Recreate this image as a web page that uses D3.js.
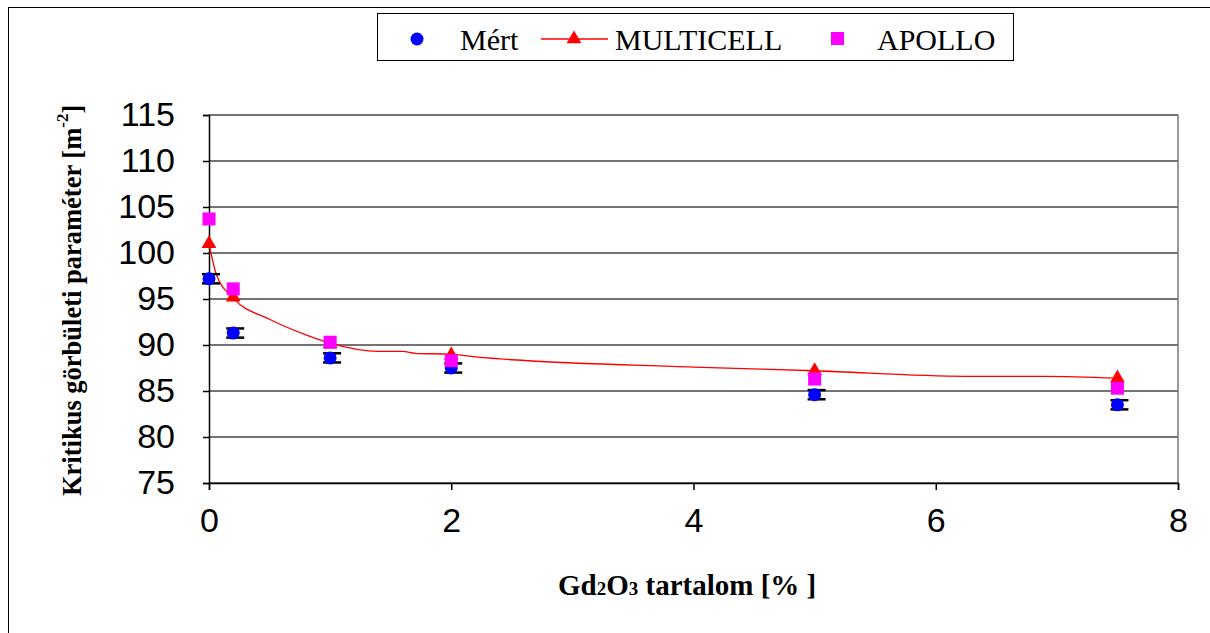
<!DOCTYPE html>
<html>
<head>
<meta charset="utf-8">
<script src="https://cdn.jsdelivr.net/npm/d3@7"></script>
<style>
  body { margin: 0; background: #fff; }
  svg { display: block; }
</style>
</head>
<body>
<svg id="chart" width="1210" height="633"></svg>
<script>
// Gd2O3 content [%]
const gdX = [0, 0.2, 1, 2, 5, 7.5];
// measured values + error
const mert = [97.2, 91.3, 88.6, 87.5, 84.6, 83.5];
const mertErr = [0.5, 0.5, 0.5, 0.5, 0.5, 0.5];
// MULTICELL markers
const multicell = [101.0, 95.2, 90.1, 88.9, 87.2, 86.4];
// MULTICELL curve
const curveX = [0, 0.06, 0.2, 0.5, 0.8, 1.0, 1.4, 1.6, 1.7, 2.0, 2.2, 4.0, 5.0, 6.25, 6.9, 7.5];
const curveY = [101.0, 97.7, 95.1, 92.8, 91.1, 90.2, 89.3, 89.3, 89.1, 89.0, 88.7, 87.6, 87.2, 86.6, 86.6, 86.4];
// APOLLO
const apollo = [103.7, 96.1, 90.3, 88.3, 86.3, 85.3];

const xTicks = [0, 2, 4, 6, 8];
const yTicks = [75, 80, 85, 90, 95, 100, 105, 110, 115];

const svg = d3.select("#chart");
const L = 209, R = 1178, T = 115, B = 483;

const x = d3.scaleLinear().domain([0, 8]).range([L, R]);
const y = d3.scaleLinear().domain([75, 115]).range([B, T]);

// outer frame
svg.append("rect")
    .attr("x", 8.5).attr("y", 7.5)
    .attr("width", 1210).attr("height", 640)
    .attr("fill", "none").attr("stroke", "#000").attr("stroke-width", 1);

// grid lines
svg.append("g").selectAll("line")
    .data(yTicks)
    .enter().append("line")
    .attr("x1", L).attr("x2", R)
    .attr("y1", d => y(d)).attr("y2", d => y(d))
    .attr("stroke", "#444").attr("stroke-width", 1.5);

// right border of plot area
svg.append("line")
    .attr("x1", R).attr("x2", R).attr("y1", T).attr("y2", B)
    .attr("stroke", "#777").attr("stroke-width", 1.5);

// axes
const yAxis = svg.append("g")
    .attr("transform", "translate(" + L + ",0)")
    .call(d3.axisLeft(y).tickValues(yTicks).tickSize(6).tickPadding(28));
const xAxis = svg.append("g")
    .attr("transform", "translate(0," + B + ")")
    .call(d3.axisBottom(x).tickValues(xTicks).tickSize(7).tickPadding(18));

[yAxis, xAxis].forEach(function(g) {
    g.select(".domain").attr("stroke", "#000").attr("stroke-width", 1.5);
    g.selectAll(".tick line").attr("stroke", "#000").attr("stroke-width", 1.5);
    g.selectAll(".tick text")
        .attr("fill", "#000")
        .style("font-family", "Liberation Sans, Arial, sans-serif")
        .style("font-size", "34px");
});

// MULTICELL line
const line = d3.line()
    .x(function(d) { return x(d[0]); })
    .y(function(d) { return y(d[1]); })
    .curve(d3.curveMonotoneX);
svg.append("path")
    .datum(d3.zip(curveX, curveY))
    .attr("d", line)
    .attr("fill", "none")
    .attr("stroke", "#ff0000")
    .attr("stroke-width", 1.3);

// Mért error bars (caps + vertical behind the dot)
const eb = svg.append("g");
gdX.forEach(function(v, i) {
    [mert[i] + mertErr[i], mert[i] - mertErr[i]].forEach(function(e) {
        eb.append("line")
            .attr("x1", x(v) - 7).attr("x2", x(v) + 11)
            .attr("y1", y(e)).attr("y2", y(e))
            .attr("stroke", "#000").attr("stroke-width", 2.5);
    });
    eb.append("line")
        .attr("x1", x(v)).attr("x2", x(v))
        .attr("y1", y(mert[i] + mertErr[i])).attr("y2", y(mert[i] - mertErr[i]))
        .attr("stroke", "#000").attr("stroke-width", 1);
});

// Mért circles
svg.append("g").selectAll("circle")
    .data(gdX)
    .enter().append("circle")
    .attr("cx", d => x(d))
    .attr("cy", (d, i) => y(mert[i]))
    .attr("r", 6.5)
    .attr("fill", "#0000ff");

// MULTICELL triangles
const tri = d3.symbol().type(d3.symbolTriangle).size(95);
svg.append("g").selectAll("path")
    .data(gdX)
    .enter().append("path")
    .attr("d", tri)
    .attr("transform", (d, i) => "translate(" + x(d) + "," + y(multicell[i]) + ")")
    .attr("fill", "#ff0000");

// APOLLO squares
svg.append("g").selectAll("rect")
    .data(gdX)
    .enter().append("rect")
    .attr("x", d => x(d) - 6.5)
    .attr("y", (d, i) => y(apollo[i]) - 6.5)
    .attr("width", 13).attr("height", 13)
    .attr("fill", "#ff00ff");

// legend
const lg = svg.append("g");
lg.append("rect")
    .attr("x", 377.5).attr("y", 13.5).attr("width", 636).attr("height", 47)
    .attr("fill", "#fff").attr("stroke", "#000").attr("stroke-width", 1);
lg.append("circle").attr("cx", 417).attr("cy", 39).attr("r", 6.5).attr("fill", "#0000ff");
lg.append("line").attr("x1", 541).attr("x2", 608).attr("y1", 39).attr("y2", 39)
    .attr("stroke", "#ff0000").attr("stroke-width", 1.3);
lg.append("path").attr("d", tri).attr("transform", "translate(574,39)").attr("fill", "#ff0000");
lg.append("rect").attr("x", 831).attr("y", 32).attr("width", 13).attr("height", 13).attr("fill", "#ff00ff");
const legendText = [["Mért", 460], ["MULTICELL", 615], ["APOLLO", 877]];
lg.selectAll("text")
    .data(legendText)
    .enter().append("text")
    .attr("x", d => d[1]).attr("y", 50)
    .style("font-family", "Liberation Serif, Times New Roman, serif")
    .style("font-size", "30px")
    .text(d => d[0]);

// x axis title
const xt = svg.append("text")
    .attr("x", 558).attr("y", 595)
    .style("font-family", "Liberation Serif, Times New Roman, serif")
    .style("font-size", "29px")
    .style("font-weight", "bold");
xt.append("tspan").text("Gd");
xt.append("tspan").style("font-size", "19px").text("2");
xt.append("tspan").text("O");
xt.append("tspan").style("font-size", "19px").text("3");
xt.append("tspan").text(" tartalom [% ]");

// y axis title
const yt = svg.append("text")
    .attr("transform", "translate(81,496) rotate(-90)")
    .style("font-family", "Liberation Serif, Times New Roman, serif")
    .style("font-size", "26.5px")
    .style("font-weight", "bold");
yt.append("tspan").text("Kritikus görbületi paraméter [m");
yt.append("tspan").attr("dy", -13).style("font-size", "17px").text("-2");
yt.append("tspan").attr("dy", 13).text("]");
</script>
</body>
</html>
